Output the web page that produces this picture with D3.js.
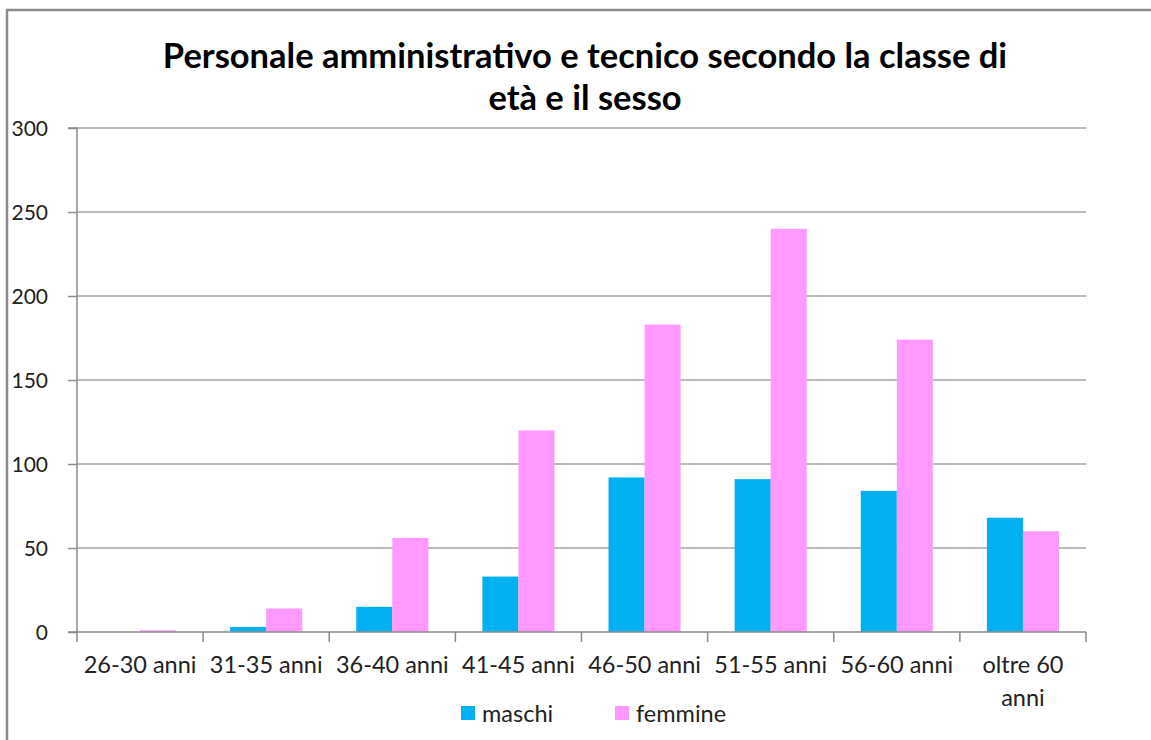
<!DOCTYPE html>
<html>
<head>
<meta charset="utf-8">
<script src="https://cdn.jsdelivr.net/npm/d3@7"></script>
<style>
html,body{margin:0;padding:0;background:#fff;}
svg{display:block;}
</style>
</head>
<body>
<svg id="chart" width="1151" height="740"></svg>
<script>
const categories = ["26-30 anni","31-35 anni","36-40 anni","41-45 anni","46-50 anni","51-55 anni","56-60 anni","oltre 60 anni"];
const maschi = [0, 3, 15, 33, 92, 91, 84, 68];
const femmine = [1, 14, 56, 120, 183, 240, 174, 60];
const seriesNames = ["maschi","femmine"];
const seriesColors = ["#00B0F0","#FF99FF"];
const yTicks = [0,50,100,150,200,250,300];
const titleLines = ["Personale amministrativo e tecnico secondo la classe di","età e il sesso"];

(function(){
const svg = d3.select("#chart");
const font = "Lato, 'Open Sans', sans-serif";
const pLeft = 77, pRight = 1086, pTop = 128, pBottom = 632;

// outer frame
svg.append("rect").attr("x",7).attr("y",10).attr("width",1160).attr("height",760)
  .attr("fill","#fff").attr("stroke","#8c8c8c").attr("stroke-width",2.5);

const x = d3.scaleBand().domain(categories).range([pLeft,pRight]).paddingInner(0).paddingOuter(0);
const y = d3.scaleLinear().domain([0,300]).range([pBottom,pTop]);
const inner = d3.scaleBand().domain(seriesNames).range([0,x.bandwidth()]).paddingInner(0).paddingOuter(0.75);

// gridlines
svg.append("g").selectAll("line").data(yTicks.filter(d=>d>0)).join("line")
  .attr("x1",pLeft).attr("x2",pRight).attr("y1",d=>y(d)).attr("y2",d=>y(d))
  .attr("stroke","#a6a6a6").attr("stroke-width",1.5);

// bars
const data = [maschi, femmine];
seriesNames.forEach((s,si)=>{
  svg.append("g").selectAll("rect").data(categories).join("rect")
    .attr("x",(c)=>x(c)+inner(s))
    .attr("width",inner.bandwidth())
    .attr("y",(c,i)=>y(data[si][i]))
    .attr("height",(c,i)=>y(0)-y(data[si][i]))
    .attr("fill",seriesColors[si]);
});

// y axis
const yAxis = d3.axisLeft(y).tickValues(yTicks).tickSize(9).tickPadding(20);
const gy = svg.append("g").attr("transform",`translate(${pLeft},0)`).call(yAxis);
gy.select(".domain").attr("stroke","#8c8c8c").attr("stroke-width",1.5).attr("d",`M-9,${pTop}H0V${pBottom}H-9`);
gy.selectAll(".tick line").attr("stroke","#8c8c8c").attr("stroke-width",1.5);
gy.selectAll(".tick text").attr("font-family",font).attr("font-size",21).attr("fill","#222").attr("dy","0.36em");

// x axis
const xAxis = d3.axisBottom(x).tickSize(0).tickPadding(0);
const gx = svg.append("g").attr("transform",`translate(0,${pBottom})`).call(xAxis);
gx.select(".domain").attr("stroke","#8c8c8c").attr("stroke-width",1.5).attr("d",`M${pLeft},0H${pRight}`);
gx.selectAll(".tick line").remove();
gx.selectAll(".tick text").remove();
const bounds = categories.map(c=>x(c)).concat([pRight]);
gx.selectAll("line.bt").data(bounds).join("line").attr("class","bt")
  .attr("x1",d=>d).attr("x2",d=>d).attr("y1",0).attr("y2",10)
  .attr("stroke","#8c8c8c").attr("stroke-width",1.5);
categories.forEach(c=>{
  const cx = x(c)+x.bandwidth()/2;
  const lines = c==="oltre 60 anni" ? ["oltre 60","anni"] : [c];
  const t = svg.append("text").attr("text-anchor","middle").attr("font-family",font)
    .attr("font-size",23.5).attr("fill","#222");
  lines.forEach((l,i)=>t.append("tspan").attr("x",cx).attr("y",pBottom+41+i*33).text(l));
});

// title
titleLines.forEach((l,i)=>{
  svg.append("text").attr("x",585).attr("y",68+i*42).attr("text-anchor","middle")
    .attr("font-family",font).attr("font-weight","bold").attr("font-size",34.5).attr("fill","#000").text(l);
});

// legend
const legendX = [461, 615];
seriesNames.forEach((s,i)=>{
  svg.append("rect").attr("x",legendX[i]).attr("y",706).attr("width",14).attr("height",14).attr("fill",seriesColors[i]);
  svg.append("text").attr("x",legendX[i]+21).attr("y",722).attr("font-family",font).attr("font-size",23.5)
    .attr("fill","#222").text(s);
});
})();
</script>
</body>
</html>
